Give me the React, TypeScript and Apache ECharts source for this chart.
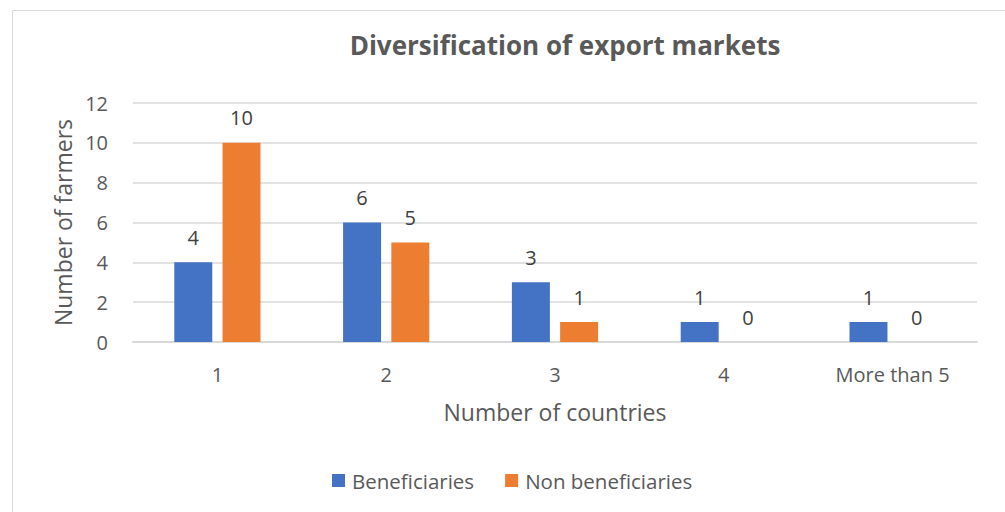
import React, { useEffect, useRef } from "react";
import * as echarts from "echarts";

const categories = ["1", "2", "3", "4", "More than 5"];
const beneficiaries = [4, 6, 3, 1, 1];
const nonBeneficiaries = [10, 5, 1, 0, 0];
const yTicks = [0, 2, 4, 6, 8, 10, 12];

const FONT = "'Open Sans', sans-serif";

export default function App() {
  const ref = useRef<HTMLDivElement>(null);
  useEffect(() => {
    document.body.style.margin = "0";
    const chart = echarts.init(ref.current!, null, { renderer: "svg" });
    chart.setOption({
      animation: false,
      textStyle: { fontFamily: FONT },
      title: {
        text: "Diversification of export markets",
        left: 560,
        top: 27,
        textAlign: "center",
        textStyle: { fontSize: 26, fontWeight: "bold", color: "#595959", fontFamily: FONT },
      },
      graphic: [
        {
          type: "rect",
          shape: { x: 12.5, y: 10.5, width: 1000, height: 510 },
          style: { fill: "none", stroke: "#d9d9d9", lineWidth: 1 },
          silent: true,
        },
      ],
      legend: {
        bottom: 16,
        left: 327,
        itemWidth: 13,
        itemHeight: 13,
        itemGap: 31,
        icon: "rect",
        textStyle: { fontSize: 20.5, color: "#595959", fontFamily: FONT, padding: [0, 0, 0, 2] },
        data: ["Beneficiaries", "Non beneficiaries"],
      },
      grid: { left: 133, right: 28, top: 103, bottom: 170 },
      xAxis: {
        type: "category",
        data: categories,
        name: "Number of countries",
        nameLocation: "middle",
        nameGap: 58,
        nameTextStyle: { fontSize: 23, color: "#595959", fontFamily: FONT },
        axisLine: { lineStyle: { color: "#d9d9d9", width: 2 } },
        axisTick: { show: false },
        axisLabel: { fontSize: 20, color: "#595959", margin: 22, fontFamily: FONT },
      },
      yAxis: {
        type: "value",
        min: yTicks[0],
        max: yTicks[yTicks.length - 1],
        interval: 2,
        name: "Number of farmers",
        nameLocation: "middle",
        nameGap: 57,
        nameTextStyle: { fontSize: 23, color: "#595959", fontFamily: FONT },
        axisLine: { show: false },
        axisTick: { show: false },
        axisLabel: { fontSize: 20, color: "#595959", margin: 25, fontFamily: FONT },
        splitLine: { lineStyle: { color: "#d9d9d9", width: 1.5 } },
      },
      series: [
        {
          name: "Beneficiaries",
          type: "bar",
          data: beneficiaries,
          barWidth: "22.5%",
          barGap: "27%",
          itemStyle: { color: "#4472c4" },
          label: { show: true, position: "top", distance: 15, fontSize: 20, color: "#404040", fontFamily: FONT },
        },
        {
          name: "Non beneficiaries",
          type: "bar",
          data: nonBeneficiaries,
          barWidth: "22.5%",
          itemStyle: { color: "#ed7d31" },
          label: { show: true, position: "top", distance: 15, fontSize: 20, color: "#404040", fontFamily: FONT },
        },
      ],
    });
    return () => chart.dispose();
  }, []);
  return <div ref={ref} style={{ width: 1005, height: 512 }} />;
}
